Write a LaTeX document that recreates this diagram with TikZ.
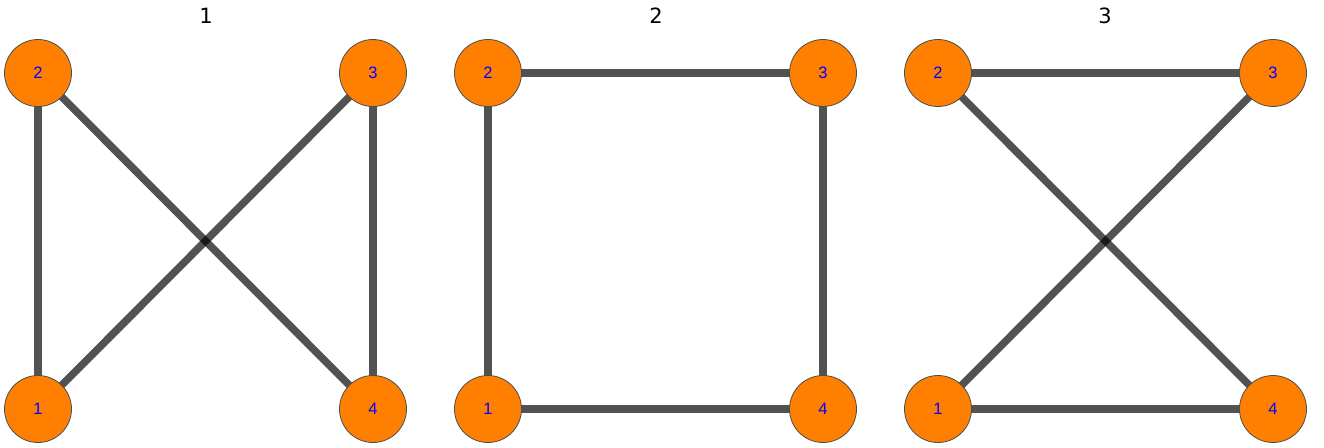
\documentclass[tikz,border=0pt]{standalone}
\usepackage{fontspec}
\setmainfont{Liberation Sans}
\newfontfamily\titlefont{DejaVu Sans}
\usetikzlibrary{backgrounds}
\definecolor{orange1}{HTML}{FF8000}
\begin{document}
\begin{tikzpicture}[x=1pt,y=-1pt,
  vtx/.style={circle,draw=black!70,line width=0.8pt,fill=orange1,minimum size=67pt,inner sep=0pt,text=blue,font=\fontsize{16.5}{16.5}\selectfont},
  edge/.style={line width=7.5pt,draw=black,draw opacity=0.68},
  ttl/.style={font=\titlefont\fontsize{21}{21}\selectfont,text=black}]
\useasboundingbox (0,0) rectangle (1324,447);
% graph 1
\node[ttl] (t1) at (206,16) {1};
\node[vtx] (a2) at (38,73) {2};
\node[vtx] (a3) at (373,73) {3};
\node[vtx] (a1) at (38,409) {1};
\node[vtx] (a4) at (373,409) {4};
% graph 2
\node[ttl] (t2) at (656,16) {2};
\node[vtx] (b2) at (488,73) {2};
\node[vtx] (b3) at (823,73) {3};
\node[vtx] (b1) at (488,409) {1};
\node[vtx] (b4) at (823,409) {4};
% graph 3
\node[ttl] (t3) at (1105,16) {3};
\node[vtx] (c2) at (938,73) {2};
\node[vtx] (c3) at (1273,73) {3};
\node[vtx] (c1) at (938,409) {1};
\node[vtx] (c4) at (1273,409) {4};
\begin{scope}[on background layer]
\draw[edge] (a2.center) -- (a1.center);
\draw[edge] (a2.center) -- (a4.center);
\draw[edge] (a3.center) -- (a1.center);
\draw[edge] (a3.center) -- (a4.center);
\draw[edge] (b2.center) -- (b3.center);
\draw[edge] (b2.center) -- (b1.center);
\draw[edge] (b3.center) -- (b4.center);
\draw[edge] (b1.center) -- (b4.center);
\draw[edge] (c2.center) -- (c3.center);
\draw[edge] (c2.center) -- (c4.center);
\draw[edge] (c3.center) -- (c1.center);
\draw[edge] (c1.center) -- (c4.center);
\end{scope}
\end{tikzpicture}
\end{document}
